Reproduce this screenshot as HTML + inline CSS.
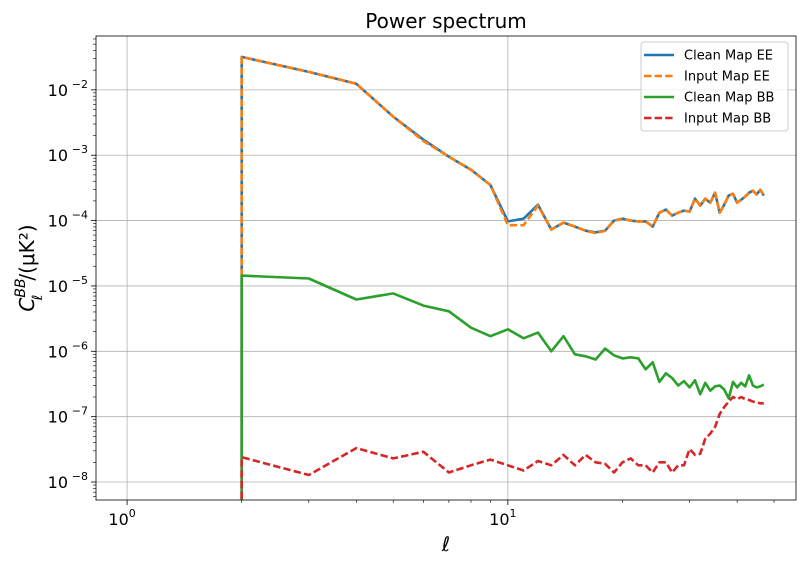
<!DOCTYPE html>
<html><head><meta charset="utf-8"><style>
body{margin:0;background:#fff;}
svg{display:block;font-family:"DejaVu Sans","Liberation Sans",sans-serif;}
</style></head><body>
<svg id="chart" width="803" height="566" viewBox="0 0 803 566"></svg>
<script>
const ells = [2,3,4,5,6,7,8,9,10,11,12,13,14,15,16,17,18,19,20,21,22,23,24,25,26,27,28,29,30,31,32,33,34,35,36,37,38,39,40,41,42,43,44,45,46,47];
const cleanEE = [3.19e-2,1.88e-2,1.24e-2,3.9e-3,1.73e-3,9.5e-4,6.0e-4,3.5e-4,9.7e-5,1.07e-4,1.75e-4,7.3e-5,9.3e-5,8.1e-5,7.0e-5,6.6e-5,7.0e-5,1.0e-4,1.07e-4,1.0e-4,9.7e-5,9.7e-5,8.1e-5,1.32e-4,1.47e-4,1.19e-4,1.32e-4,1.42e-4,1.37e-4,2.17e-4,1.69e-4,2.17e-4,1.88e-4,2.67e-4,1.32e-4,1.75e-4,2.41e-4,2.58e-4,1.88e-4,2.09e-4,2.33e-4,2.67e-4,2.87e-4,2.51e-4,2.97e-4,2.41e-4];
const inputEE = [3.19e-2,1.88e-2,1.24e-2,3.9e-3,1.65e-3,9.5e-4,6.0e-4,3.5e-4,8.5e-5,8.5e-5,1.7e-4,7.3e-5,9.3e-5,8.1e-5,7.0e-5,6.4e-5,7.0e-5,1.0e-4,1.07e-4,1.0e-4,9.7e-5,9.7e-5,8.1e-5,1.32e-4,1.47e-4,1.19e-4,1.32e-4,1.42e-4,1.37e-4,2.17e-4,1.69e-4,2.17e-4,1.88e-4,2.67e-4,1.32e-4,1.75e-4,2.41e-4,2.58e-4,1.88e-4,2.09e-4,2.33e-4,2.67e-4,2.87e-4,2.51e-4,2.97e-4,2.41e-4];
const cleanBB = [1.44e-5,1.3e-5,6.2e-6,7.7e-6,5.0e-6,4.1e-6,2.3e-6,1.7e-6,2.17e-6,1.58e-6,1.93e-6,1.0e-6,1.7e-6,9.0e-7,8.4e-7,7.5e-7,1.1e-6,8.7e-7,7.8e-7,8.1e-7,7.8e-7,5.3e-7,6.8e-7,3.4e-7,4.6e-7,3.9e-7,3.0e-7,3.5e-7,2.8e-7,3.6e-7,2.2e-7,3.3e-7,2.5e-7,2.9e-7,3.0e-7,2.6e-7,1.9e-7,3.4e-7,2.8e-7,3.3e-7,2.9e-7,4.3e-7,3.0e-7,2.8e-7,2.9e-7,3.1e-7];
const inputBB = [2.4e-8,1.28e-8,3.3e-8,2.3e-8,2.9e-8,1.4e-8,1.8e-8,2.2e-8,1.8e-8,1.5e-8,2.1e-8,1.8e-8,2.6e-8,1.8e-8,2.6e-8,2.0e-8,1.9e-8,1.4e-8,2.0e-8,2.3e-8,1.8e-8,1.8e-8,1.4e-8,2.0e-8,2.0e-8,1.4e-8,1.8e-8,1.8e-8,3.2e-8,2.6e-8,2.7e-8,4.6e-8,5.5e-8,7.0e-8,1.1e-7,1.4e-7,1.7e-7,2.0e-7,1.85e-7,2.0e-7,1.85e-7,1.8e-7,1.7e-7,1.65e-7,1.6e-7,1.6e-7];
const xTickVals = [1,10];
const xTickLabels = ["0","1"];
const yTickVals = [1e-8,1e-7,1e-6,1e-5,1e-4,1e-3,1e-2];
const yTickLabels = ["−8","−7","−6","−5","−4","−3","−2"];
const seriesNames = ["Clean Map EE","Input Map EE","Clean Map BB","Input Map BB"];

const L=96,R=796,T=36,B=500;
const xLmin=Math.log10(0.8287), xLmax=Math.log10(57.1);
const yLmin=-8.275, yLmax=-1.176;
const X=v=>L+(Math.log10(v)-xLmin)/(xLmax-xLmin)*(R-L);
const Y=v=>B-(Math.log10(v)-yLmin)/(yLmax-yLmin)*(B-T);
const svg=document.getElementById('chart');
const NS='http://www.w3.org/2000/svg';
function mk(tag,attrs,parent){const e=document.createElementNS(NS,tag);for(const k in attrs)e.setAttribute(k,attrs[k]);(parent||svg).appendChild(e);return e;}

// clip
const defs=mk('defs',{});const cp=mk('clipPath',{id:'clip'},defs);mk('rect',{x:L,y:T,width:R-L,height:B-T},cp);

// grid
xTickVals.forEach(v=>{const g=mk('line',{x1:X(v),x2:X(v),y1:T,y2:B,stroke:'#b0b0b0','stroke-width':0.8});

});
yTickVals.forEach(v=>{const g=mk('line',{x1:L,x2:R,y1:Y(v),y2:Y(v),stroke:'#b0b0b0','stroke-width':0.8});

});

// series
const colors=['#1f77b4','#ff7f0e','#2ca02c','#d62728'];
const dashes=[null,'7.4,3.2',null,'7.4,3.2'];
const data=[cleanEE,inputEE,cleanBB,inputBB];
const sNames=['clean-map-ee-line','input-map-ee-line','clean-map-bb-line','input-map-bb-line'];
data.forEach((arr,i)=>{
  let d='M'+X(ells[0]).toFixed(1)+','+(B+20)+' ';
  arr.forEach((v,j)=>{d+='L'+X(ells[j]).toFixed(1)+','+Y(v).toFixed(1)+' ';});
  const a={d:d,fill:'none',stroke:colors[i],'stroke-width':2.6,'clip-path':'url(#clip)','stroke-linejoin':'round'};
  if(dashes[i])a['stroke-dasharray']=dashes[i];
  const p=mk('path',a);
  
  
});

// axes frame
const fr=mk('rect',{x:L,y:T,width:R-L,height:B-T,fill:'none',stroke:'#000','stroke-width':0.8});



// ticks
xTickVals.forEach((v,i)=>{
  mk('line',{x1:X(v),x2:X(v),y1:B,y2:B+5,stroke:'#000','stroke-width':0.8});
  const t=mk('text',{x:X(v)-5,y:B+25,'font-size':16,'text-anchor':'middle',fill:'#000'});
  
  
  t.textContent='10';
  const s=mk('tspan',{'font-size':11,dy:-8},t);s.textContent=xTickLabels[i];
});
[2,3,4,5,6,7,8,9,20,30,40,50].forEach(v=>{mk('line',{x1:X(v),x2:X(v),y1:B,y2:B+3,stroke:'#000','stroke-width':0.6});});
yTickVals.forEach((v,i)=>{
  mk('line',{x1:L-5,x2:L,y1:Y(v),y2:Y(v),stroke:'#000','stroke-width':0.8});
  const t=mk('text',{x:L-28,y:Y(v)+6,'font-size':16,'text-anchor':'end',fill:'#000'});
  
  
  t.textContent='10';
  const s=mk('tspan',{'font-size':11,dy:-8,x:L-8,'text-anchor':'end'},t);s.textContent=yTickLabels[i];
});
for(let e=-9;e<=-2;e++){for(let m=2;m<=9;m++){const v=m*Math.pow(10,e);const y=Y(v);if(y>T&&y<B)mk('line',{x1:L-3,x2:L,y1:y,y2:y,stroke:'#000','stroke-width':0.6});}}

// title & labels
const ti=mk('text',{x:446,y:28,'font-size':20,'text-anchor':'middle',fill:'#000'});


ti.textContent='Power spectrum';
const xl=mk('text',{x:446,y:551,'font-size':20,'text-anchor':'middle','font-style':'italic',fill:'#000'});


xl.textContent='ℓ';
const yl=mk('text',{transform:'translate(34,268) rotate(-90)','font-size':20,'text-anchor':'middle',fill:'#000'});


const c=mk('tspan',{'font-style':'italic'},yl);c.textContent='C';
const sup=mk('tspan',{'font-size':14,'font-style':'italic',dy:-9},yl);sup.textContent='BB';
const sub=mk('tspan',{'font-size':14,'font-style':'italic',dx:-22,dy:17},yl);sub.textContent='ℓ';
const rest=mk('tspan',{dx:14,dy:-8},yl);rest.textContent='/(μK²)';

// legend
const lg=mk('g',{});


mk('rect',{x:641,y:42,width:147,height:89,rx:3,fill:'#fff','fill-opacity':0.8,stroke:'#ccc','stroke-width':1},lg);
seriesNames.forEach((n,i)=>{
  const y=55+i*21;
  const la={x1:644,x2:674,y1:y,y2:y,stroke:colors[i],'stroke-width':2.6};
  if(dashes[i])la['stroke-dasharray']='7.4,3.2';
  mk('line',la,lg);
  const t=mk('text',{x:684,y:y+4.5,'font-size':13,fill:'#000'},lg);
  
  
  t.textContent=n;
});
</script>
</body></html>
